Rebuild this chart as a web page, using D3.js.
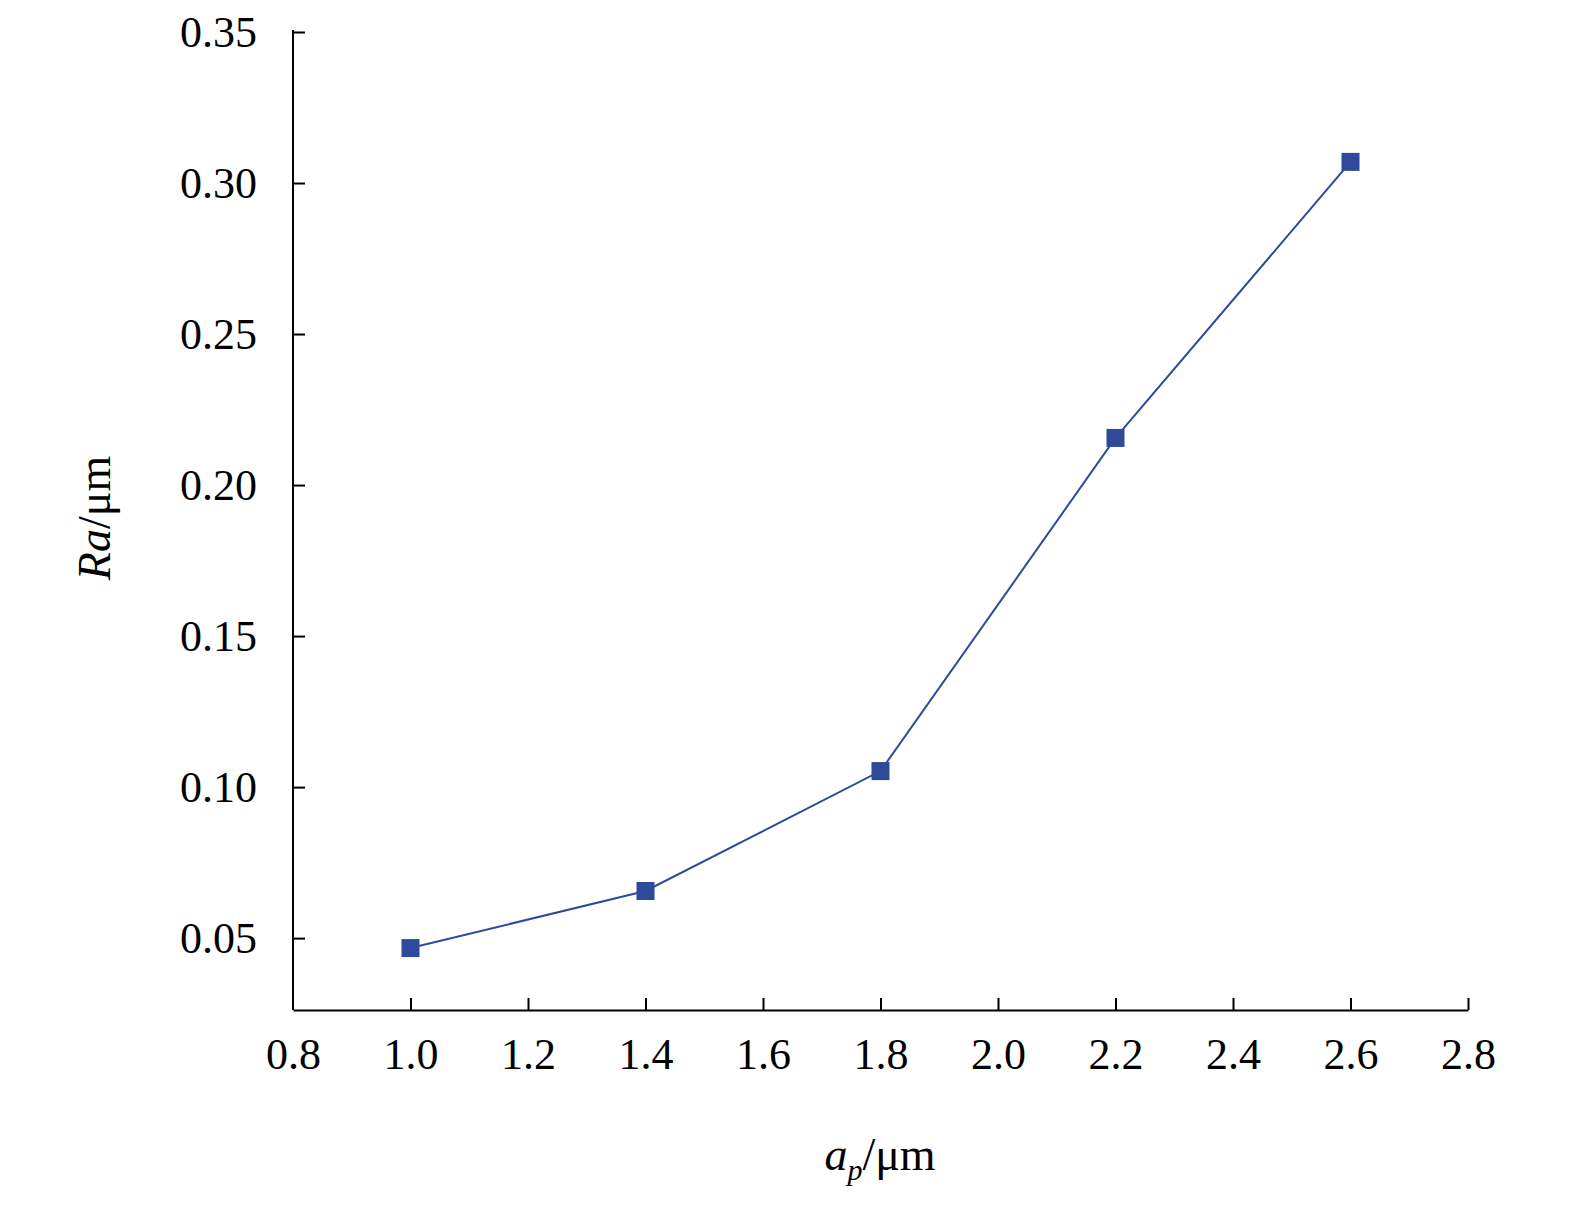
<!DOCTYPE html>
<html><head><meta charset="utf-8">
<script src="https://cdn.jsdelivr.net/npm/d3@7"></script>
<style>body{margin:0;background:#fff}</style>
</head><body>
<svg id="chart" width="1575" height="1205"></svg>
<script>
const apValues = [1.0, 1.4, 1.8, 2.2, 2.6];
const raValues = [0.0467, 0.0656, 0.1053, 0.2156, 0.307];
const xTicks = [0.8, 1.0, 1.2, 1.4, 1.6, 1.8, 2.0, 2.2, 2.4, 2.6, 2.8];
const yTicks = [0.05, 0.10, 0.15, 0.20, 0.25, 0.30, 0.35];

const svg = d3.select("#chart");
const font = "'Liberation Serif', 'Times New Roman', serif";
const x = d3.scaleLinear().domain([0.8, 2.8]).range([293, 1468]);
const y = d3.scaleLinear().domain([0.0262, 0.35]).range([1010, 32]);

const xAxis = svg.append("g").attr("transform", "translate(0,1010)")
  .call(d3.axisBottom(x).tickValues(xTicks).tickFormat(d3.format(".1f")).tickSizeInner(-12).tickSizeOuter(0).tickPadding(28));
const yAxis = svg.append("g").attr("transform", "translate(293,0)")
  .call(d3.axisLeft(y).tickValues(yTicks).tickFormat(d3.format(".2f")).tickSizeInner(-12).tickSizeOuter(0).tickPadding(36));
yAxis.select(".domain").attr("d", "M0,30V1010");
[xAxis, yAxis].forEach(a => {
  a.selectAll("path,line").attr("stroke", "#000").attr("stroke-width", 2);
  a.selectAll("text").attr("font-family", font).attr("font-size", 44).attr("fill", "#000");
});
xAxis.selectAll(".tick line").filter(d => d === 0.8).remove();

const color = "#2e4a9a";
svg.append("path").datum(apValues.map((v, i) => [v, raValues[i]]))
  .attr("fill", "none").attr("stroke", color).attr("stroke-width", 2)
  .attr("d", d3.line().x(d => x(d[0])).y(d => y(d[1])));
svg.selectAll("rect.pt").data(apValues).enter().append("rect")
  .attr("x", (d) => x(d) - 9).attr("y", (d, i) => y(raValues[i]) - 9)
  .attr("width", 18).attr("height", 18).attr("fill", color);

const xl = svg.append("text").attr("x", 880).attr("y", 1170).attr("text-anchor", "middle")
  .attr("font-family", font).attr("font-size", 46);
xl.append("tspan").attr("font-style", "italic").text("a");
xl.append("tspan").attr("font-style", "italic").attr("font-size", 30).attr("dy", 10).text("p");
xl.append("tspan").attr("dy", -10).text("/μm");

const yl = svg.append("text").attr("transform", "translate(110,518) rotate(-90)").attr("text-anchor", "middle")
  .attr("font-family", font).attr("font-size", 46);
yl.append("tspan").attr("font-style", "italic").text("Ra");
yl.append("tspan").text("/μm");
</script>
</body></html>
